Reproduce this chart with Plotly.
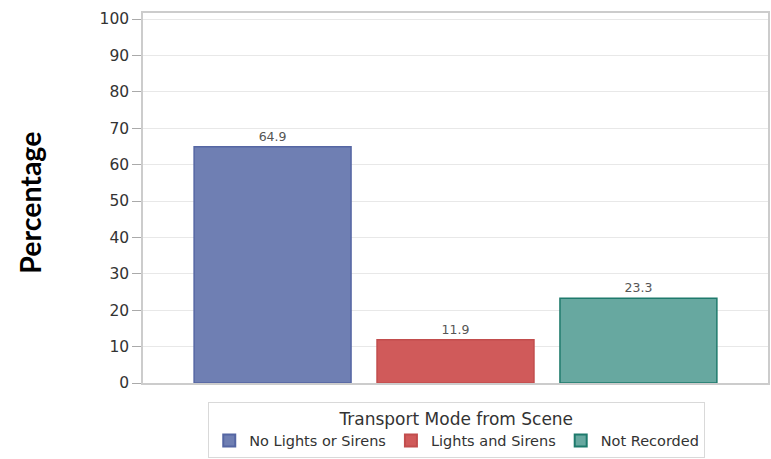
import plotly.graph_objects as go

# data
categories = ["No Lights or Sirens", "Lights and Sirens", "Not Recorded"]
percentages = [64.9, 11.9, 23.3]
group_label = ["Transport Mode from Scene"]
y_ticks = [0, 10, 20, 30, 40, 50, 60, 70, 80, 90, 100]

fill_colors = ["#6f7fb3", "#d05a5a", "#67a8a0"]
edge_colors = ["#5566a3", "#c24d4d", "#1e7a6c"]

fig = go.Figure()

for name, value, fill, edge in zip(categories, percentages, fill_colors, edge_colors):
    fig.add_trace(go.Bar(x            = group_label,
                         y            = [value],
                         name         = name,
                         marker       = dict(color = fill,
                                             line  = dict(color = edge, width = 1.5)),
                         text         = [f"{value:.1f}"],
                         textposition = "outside",
                         textfont     = dict(family = "DejaVu Sans", size = 12.5, color = "#555555"),
                         cliponaxis   = False))

fig.update_layout(width         = 771,
                  height        = 459,
                  margin        = dict(l = 143, r = 3, t = 13, b = 76, autoexpand = False),
                  barmode       = "group",
                  bargap        = 0.122,
                  bargroupgap   = 0.142,
                  plot_bgcolor  = "white",
                  paper_bgcolor = "white",
                  font          = dict(family = "DejaVu Sans, sans-serif",
                                       size   = 12,
                                       color  = "#444444"),
                  showlegend    = True,
                  legend        = dict(orientation = "h",
                                       x           = 0.502,
                                       xanchor     = "center",
                                       y           = -0.05,
                                       yanchor     = "top",
                                       bordercolor = "#d9d9d9",
                                       borderwidth = 1,
                                       font        = dict(size = 14.5, color = "#333333"),
                                       title       = dict(text = "Transport Mode from Scene",
                                                          side = "top center",
                                                          font = dict(size = 17, color = "#333333")),
                                       itemsizing  = "constant",
                                       tracegroupgap = 0),
                  annotations   = [dict(text      = "<b>Percentage</b>",
                                        xref      = "paper",
                                        yref      = "paper",
                                        x         = -0.181,
                                        y         = 0.487,
                                        xanchor   = "center",
                                        yanchor   = "middle",
                                        textangle = -90,
                                        showarrow = False,
                                        font      = dict(family = "Lato, sans-serif",
                                                         size   = 28.5,
                                                         color  = "black"))])

fig.update_xaxes(showticklabels = False,
                 showline       = True,
                 linecolor      = "#cccccc",
                 linewidth      = 1.5,
                 mirror         = True,
                 showgrid       = False)

fig.update_yaxes(range     = [0, 101.65],
                 tickvals  = y_ticks,
                 ticks     = "outside",
                 ticklen   = 9,
                 tickcolor = "#aaaaaa",
                 tickfont  = dict(size = 15.5, color = "#333333"),
                 showline  = True,
                 linecolor = "#cccccc",
                 linewidth = 1.5,
                 mirror    = True,
                 showgrid  = True,
                 gridcolor = "#e8e8e8",
                 zeroline  = False)

# the page has a default 8px body margin; drop it so the figure sits at 0,0
fig.write_html("out.html",
               config      = {"displayModeBar": False},
               post_script = "document.body.style.margin = '0';")
